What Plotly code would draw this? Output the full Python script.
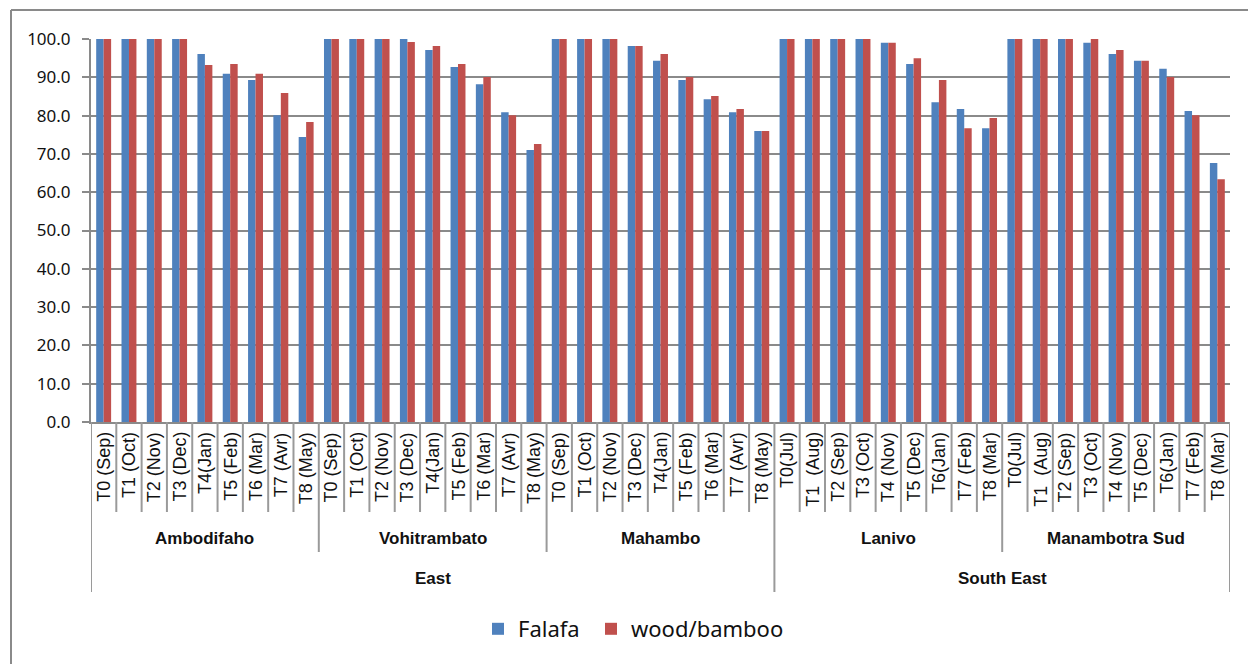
import plotly.graph_objects as go

# Measurement rounds per site, then the values for each cover type (%)
regions = ["East", "South East"]
region_sites = [["Ambodifaho", "Vohitrambato", "Mahambo"], ["Lanivo", "Manambotra Sud"]]

months_east = ["T0 (Sep)", "T1 (Oct)", "T2 (Nov)", "T3 (Dec)", "T4(Jan)",
               "T5 (Feb)", "T6 (Mar)", "T7 (Avr)", "T8 (May)"]
months_south_east = ["T0(Jul)", "T1  (Aug)", "T2 (Sep)", "T3 (Oct)", "T4 (Nov)",
                     "T5 (Dec)", "T6(Jan)", "T7 (Feb)", "T8 (Mar)"]

falafa_ambodifaho = [100.0, 100.0, 100.0, 100.0, 96.1, 90.9, 89.3, 80.1, 74.4]
wood_ambodifaho = [100.0, 100.0, 100.0, 100.0, 93.2, 93.5, 90.9, 85.9, 78.3]
falafa_vohitrambato = [100.0, 100.0, 100.0, 100.0, 97.1, 92.7, 88.2, 80.9, 71.0]
wood_vohitrambato = [100.0, 100.0, 100.0, 99.2, 98.2, 93.5, 90.1, 80.1, 72.6]
falafa_mahambo = [100.0, 100.0, 100.0, 98.2, 94.3, 89.3, 84.3, 80.9, 76.0]
wood_mahambo = [100.0, 100.0, 100.0, 98.2, 96.1, 90.1, 85.1, 81.7, 76.0]
falafa_lanivo = [100.0, 100.0, 100.0, 100.0, 99.0, 93.5, 83.5, 81.7, 76.7]
wood_lanivo = [100.0, 100.0, 100.0, 100.0, 99.0, 95.0, 89.3, 76.7, 79.4]
falafa_manambotra = [100.0, 100.0, 100.0, 99.0, 96.1, 94.3, 92.2, 81.2, 67.6]
wood_manambotra = [100.0, 100.0, 100.0, 100.0, 97.1, 94.3, 90.1, 80.1, 63.4]

month_labels = months_east * 3 + months_south_east * 2
falafa = (falafa_ambodifaho + falafa_vohitrambato + falafa_mahambo
          + falafa_lanivo + falafa_manambotra)
wood = (wood_ambodifaho + wood_vohitrambato + wood_mahambo
        + wood_lanivo + wood_manambotra)

n = len(month_labels)
xs = list(range(n))
per_site = len(months_east)

GRID = "#8a8a8a"
SEP = "#9a9a9a"
TXT = "#111111"
SANS = "Liberation Sans, Arial, sans-serif"
LEG = "Noto Sans, Open Sans, sans-serif"

fig = go.Figure()
fig.add_trace(go.Bar(x=xs, y=falafa, name="Falafa", marker_color="#4F81BD",
                     marker_line_width=0, legend="legend"))
fig.add_trace(go.Bar(x=xs, y=wood, name="wood/bamboo", marker_color="#C0504D",
                     marker_line_width=0, legend="legend2"))

# plot area geometry in pixels (used to place the category table under the axis)
W, H = 1248, 664
L, R, T, B = 91, 18, 39, 242
ph = H - T - B


def py(pix):
    """pixel row -> paper y"""
    return (H - B - pix) / ph


def px(pix):
    """pixel column -> paper x"""
    return (pix - L) / (W - L - R)


shapes = []
annotations = []

# month labels, rotated, one per category
for i, lab in enumerate(month_labels):
    annotations.append(dict(x=i, y=py(430), xref="x", yref="paper", text=lab,
                            textangle=-90, showarrow=False, xanchor="center",
                            yanchor="top",
                            font=dict(family=SANS, size=18, color=TXT)))

# separators between categories
for i in range(n + 1):
    x = i - 0.5
    if i % per_site == 0:
        bottom = 552
    else:
        bottom = 512
    if i in (0, 3 * per_site, n):
        bottom = 592
    shapes.append(dict(type="line", xref="x", yref="paper", x0=x, x1=x,
                       y0=py(422), y1=py(bottom),
                       line=dict(color=SEP, width=2)))

# site labels and region labels
site_idx = 0
for r, sites in enumerate(region_sites):
    start = site_idx
    for s in sites:
        c = site_idx * per_site + (per_site - 1) / 2
        annotations.append(dict(x=c, y=py(538), xref="x", yref="paper",
                                text="<b>%s</b>" % s,
                                showarrow=False, xanchor="center", yanchor="middle",
                                font=dict(family=SANS, size=17, color=TXT)))
        site_idx += 1
    c = (start * per_site + site_idx * per_site - 1) / 2
    annotations.append(dict(x=c, y=py(578), xref="x", yref="paper",
                            text="<b>%s</b>" % regions[r],
                            showarrow=False, xanchor="center", yanchor="middle",
                            font=dict(family=SANS, size=17, color=TXT)))

# chart frame (top and left edges)
shapes.append(dict(type="line", xref="paper", yref="paper", x0=px(11), x1=px(W + 5),
                   y0=py(10), y1=py(10), line=dict(color="#8a8a8a", width=2)))
shapes.append(dict(type="line", xref="paper", yref="paper", x0=px(11), x1=px(11),
                   y0=py(10), y1=py(H + 5), line=dict(color="#8a8a8a", width=2)))

legend_common = dict(orientation="h", yanchor="middle", xanchor="left",
                     font=dict(family=LEG, size=22, color=TXT), itemwidth=30,
                     bgcolor="rgba(0,0,0,0)")

fig.update_layout(
    width=W, height=H,
    margin=dict(l=L, r=R, t=T, b=B, pad=0),
    paper_bgcolor="white", plot_bgcolor="white",
    barmode="group", bargap=0.41, bargroupgap=0,
    showlegend=True,
    legend=dict(x=px(478), y=py(629), **legend_common),
    legend2=dict(x=px(591), y=py(629), **legend_common),
    shapes=shapes,
    annotations=annotations,
    xaxis=dict(range=[-0.5, n - 0.5], showticklabels=False, ticks="",
               showgrid=False, zeroline=False, showline=True, linecolor=GRID,
               linewidth=2, fixedrange=True),
    yaxis=dict(range=[0, 100], dtick=10, tickformat=".1f", showgrid=True,
               gridcolor=GRID, gridwidth=2, zeroline=False, showline=True,
               linecolor=GRID, linewidth=2, ticks="outside", ticklen=7,
               tickcolor=GRID, tickwidth=2, ticklabelstandoff=8,
               tickfont=dict(family=LEG, size=17, color=TXT),
               fixedrange=True),
)

fig.write_html("out.html")
